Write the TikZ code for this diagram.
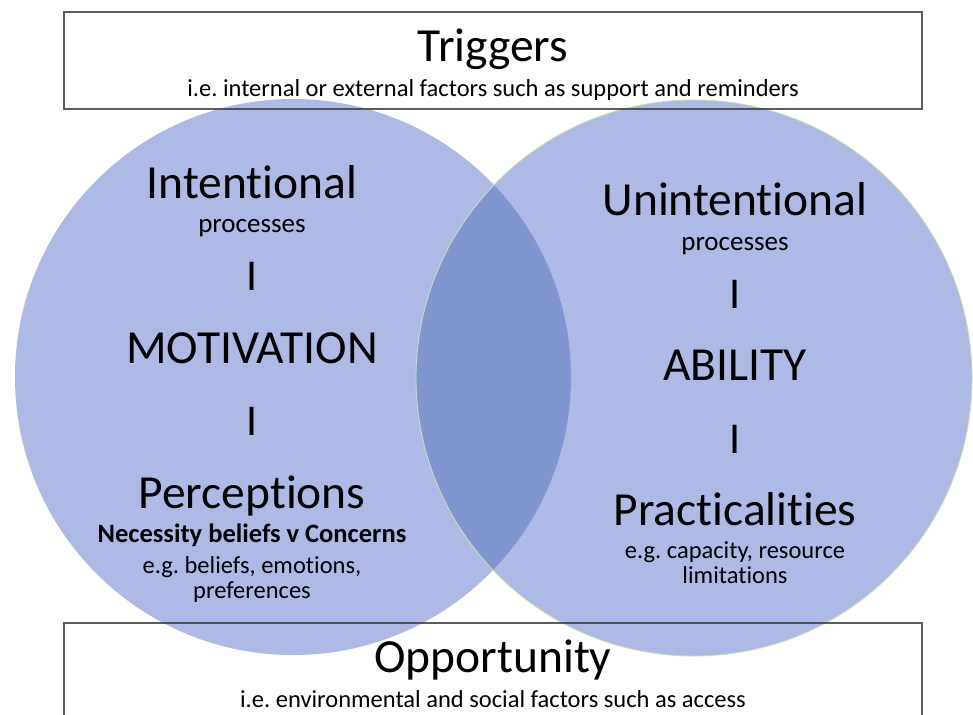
\documentclass[tikz,border=0pt]{standalone}
\usepackage{fontspec}
\setmainfont{Carlito}[Ligatures={NoCommon,NoRare,NoContextual}]
\definecolor{circfill}{RGB}{175,185,230}
\definecolor{lensfill}{RGB}{129,150,209}
\definecolor{greenedge}{RGB}{197,224,180}
\definecolor{boxedge}{RGB}{64,64,64}
\frenchspacing
\begin{document}
\begin{tikzpicture}[x=1pt,y=-1pt,
  venn/.style={circle, minimum size=556pt, inner sep=0pt, outer sep=0pt},
  frame/.style={draw=boxedge, draw opacity=0.85, line width=1.2pt, rectangle, inner sep=0pt},
  big/.style={anchor=base, inner sep=0pt, font=\fontsize{47.5}{50}\selectfont},
  sub/.style={anchor=base, inner sep=0pt, font=\fontsize{27}{30}\selectfont},
  small/.style={anchor=base, inner sep=0pt, font=\fontsize{24.5}{28}\selectfont},
  boldsmall/.style={anchor=base, inner sep=0pt, font=\fontsize{26.5}{28}\selectfont\bfseries},
  sep/.style={anchor=base, inner sep=0pt, font=\fontsize{44}{50}\selectfont}]
\useasboundingbox (0,0) rectangle (973,714);
\clip (0,0) rectangle (973,714);
\fill[white] (0,0) rectangle (973,714);
% circles
\node[venn, fill=circfill] (left) at (293,377) {};
\node[venn, fill=circfill] (right) at (694,378) {};
\begin{scope}
  \clip (293,377) circle (278pt);
  \fill[lensfill] (694,378) circle (278pt);
\end{scope}
\node[venn, draw=greenedge, line width=0.9pt] (rightedge) at (694,378) {};
% boxes
\node[frame, minimum width=858pt, minimum height=97pt] (trigbox) at (493,60.5) {};
\node[frame, minimum width=858pt, minimum height=137pt] (oppbox) at (493,691.5) {};
% top box texts
\node[big] (triggers) at (493,62) {Triggers};
\node[small] (trigtext) at (493,97) {i.e. internal or external factors such as support and reminders};
% bottom box texts
\node[big] (opportunity) at (493,672) {Opportunity};
\node[small] (opptext) at (493,707) {i.e. environmental and social factors such as access};
% left circle texts
\node[big] (intentional) at (252,198) {Intentional};
\node[sub] (lproc) at (252,232) {processes};
\node[sep] (lsep1) at (252,290) {I};
\node[big] (motivation) at (252,363) {MOTIVATION};
\node[sep] (lsep2) at (252,435) {I};
\node[big] (perceptions) at (252,508) {Perceptions};
\node[boldsmall] (necessity) at (252,542) {Necessity beliefs v Concerns};
\node[small] (lex1) at (252,573) {e.g. beliefs, emotions,};
\node[small] (lex2) at (252,598) {preferences};
% right circle texts
\node[big] (unintentional) at (735,215) {Unintentional};
\node[sub] (rproc) at (735,250) {processes};
\node[sep] (rsep1) at (735,308) {I};
\node[big] (ability) at (735,380) {ABILITY};
\node[sep] (rsep2) at (735,453) {I};
\node[big] (practicalities) at (735,525) {Practicalities};
\node[small] (rex1) at (735,558) {e.g. capacity, resource};
\node[small] (rex2) at (735,583) {limitations};
\end{tikzpicture}
\end{document}
